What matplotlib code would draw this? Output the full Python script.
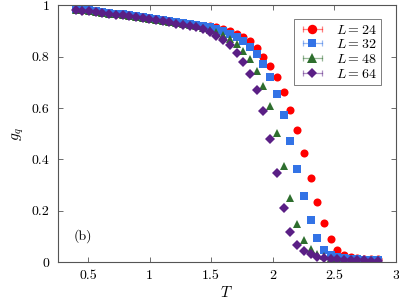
import matplotlib
matplotlib.use('Agg')
import matplotlib.pyplot as plt
from matplotlib.ticker import FuncFormatter
from matplotlib.lines import Line2D
from matplotlib.legend_handler import HandlerTuple, HandlerLine2D

plt.rcParams['font.family'] = 'cmr10'
plt.rcParams['mathtext.fontset'] = 'cm'
plt.rcParams['axes.formatter.use_mathtext'] = True

# temperature grid (same for every L)
T = [0.400, 0.454, 0.509, 0.563, 0.618, 0.672, 0.727, 0.781, 0.836, 0.890,
     0.944, 0.999, 1.053, 1.108, 1.162, 1.217, 1.271, 1.326, 1.380, 1.434,
     1.489, 1.543, 1.598, 1.652, 1.707, 1.761, 1.816, 1.870, 1.924, 1.979,
     2.033, 2.088, 2.142, 2.197, 2.251, 2.306, 2.360, 2.414, 2.469, 2.523,
     2.578, 2.632, 2.687, 2.741, 2.796, 2.850]

g24 = [0.986, 0.983, 0.980, 0.977, 0.974, 0.971, 0.968, 0.965, 0.962, 0.958,
       0.955, 0.951, 0.947, 0.943, 0.939, 0.935, 0.931, 0.927, 0.924, 0.921,
       0.918, 0.914, 0.907, 0.899, 0.889, 0.876, 0.860, 0.835, 0.800, 0.764,
       0.719, 0.663, 0.594, 0.514, 0.423, 0.326, 0.235, 0.151, 0.088, 0.047,
       0.027, 0.018, 0.014, 0.012, 0.011, 0.010]
g32 = [0.986, 0.983, 0.980, 0.977, 0.974, 0.971, 0.968, 0.965, 0.961, 0.957,
       0.954, 0.950, 0.946, 0.942, 0.938, 0.934, 0.930, 0.926, 0.923, 0.920,
       0.915, 0.908, 0.899, 0.889, 0.876, 0.860, 0.838, 0.810, 0.770, 0.719,
       0.654, 0.572, 0.471, 0.364, 0.258, 0.163, 0.092, 0.047, 0.027, 0.018,
       0.014, 0.011, 0.010, 0.009, 0.008, 0.008]
g48 = [0.983, 0.980, 0.977, 0.974, 0.971, 0.968, 0.965, 0.962, 0.958, 0.955,
       0.951, 0.947, 0.943, 0.939, 0.935, 0.931, 0.927, 0.923, 0.919, 0.913,
       0.905, 0.895, 0.884, 0.870, 0.851, 0.823, 0.790, 0.746, 0.687, 0.606,
       0.503, 0.374, 0.248, 0.148, 0.086, 0.050, 0.033, 0.023, 0.017, 0.013,
       0.011, 0.009, 0.008, 0.007, 0.007, 0.006]
g64 = [0.982, 0.979, 0.976, 0.973, 0.970, 0.967, 0.964, 0.961, 0.957, 0.953,
       0.950, 0.946, 0.942, 0.938, 0.934, 0.929, 0.925, 0.920, 0.914, 0.907,
       0.897, 0.882, 0.864, 0.844, 0.814, 0.779, 0.733, 0.670, 0.589, 0.481,
       0.345, 0.209, 0.118, 0.066, 0.044, 0.030, 0.021, 0.016, 0.012, 0.010,
       0.008, 0.007, 0.006, 0.006, 0.005, 0.005]

labels = ['$L = 24$', '$L = 32$', '$L = 48$', '$L = 64$']
series = [g24, g32, g48, g64]
colors = ['#ff0000', '#3373e6', '#2e6e2e', '#5a1f85']
markers = ['o', 's', '^', 'D']
msizes = [5.8, 5.2, 5.6, 4.6]

fig = plt.figure(figsize=(3.99, 3.05), dpi=100)
ax = fig.add_axes([0.1446, 0.141, 0.848, 0.8416])

handles = []
hmap = {}
for g, c, m, ms, lab in zip(series, colors, markers, msizes, labels):
    ax.plot(T, g, linestyle='none', marker=m, color=c, markersize=ms,
            markeredgewidth=0)
    # legend entry drawn like a pgfplots error-bar mark: light bar with caps
    bar = Line2D([], [], color=c, alpha=0.5, lw=0.9, marker='|',
                 markersize=4.5, markeredgewidth=0.9)
    mk = Line2D([], [], linestyle='none', marker=m, color=c,
                markersize=ms + 1.0, markeredgewidth=0)
    hmap[bar] = HandlerLine2D(numpoints=2)
    handles.append((bar, mk))

hmap[tuple] = HandlerTuple(ndivide=1, pad=0)

ax.set_xlim(0.255, 3.0)
ax.set_ylim(0, 1)
ax.set_xticks([0.5, 1, 1.5, 2, 2.5, 3])
ax.set_yticks([0, 0.2, 0.4, 0.6, 0.8, 1])
fmt = FuncFormatter(lambda v, p: f'{v:g}')
ax.xaxis.set_major_formatter(fmt)
ax.yaxis.set_major_formatter(fmt)
ax.tick_params(direction='in', top=True, right=True, length=3.5, width=0.6,
               color='#555555', labelsize=10, pad=6)
for s in ax.spines.values():
    s.set_color('#555555')
    s.set_linewidth(0.8)

ax.set_xlabel('$T$', fontsize=11, labelpad=2)
ax.set_ylabel('$g_q$', fontsize=11, labelpad=4)
ax.text(0.46, 0.10, '(b)', fontsize=10, ha='center', va='center')

leg = ax.legend(handles, labels, loc='upper right', fontsize=10,
                frameon=True, fancybox=False, edgecolor='#444444',
                bbox_to_anchor=(0.955, 0.945), borderaxespad=0,
                handlelength=2.0, handletextpad=0.7,
                labelspacing=0.12, borderpad=0.3, handler_map=hmap)
leg.get_frame().set_linewidth(0.6)

fig.savefig('out.png', dpi=100)
